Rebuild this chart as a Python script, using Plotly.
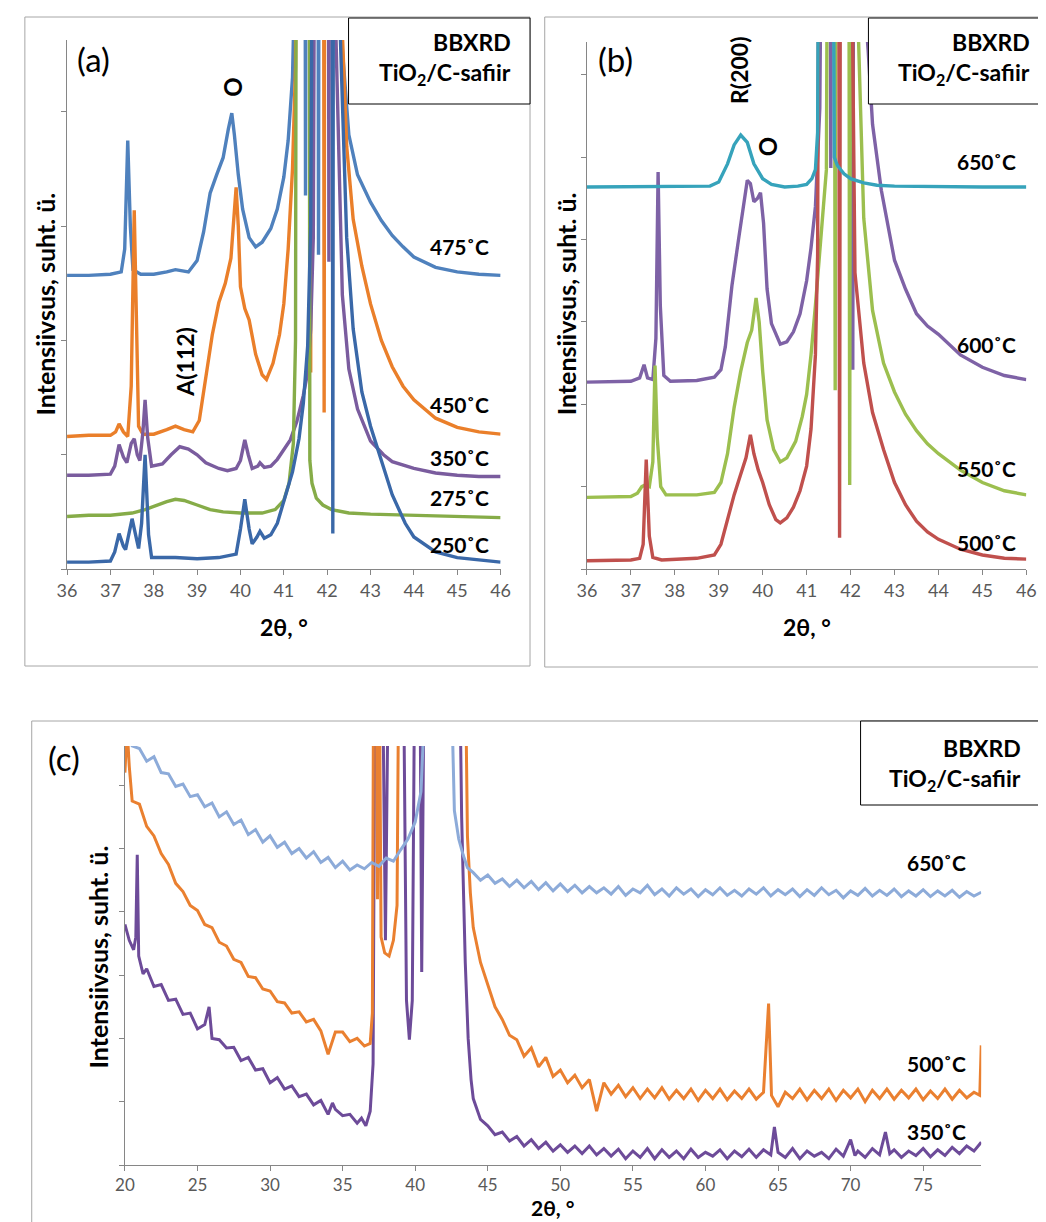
import plotly.graph_objects as go

# ---------------- DATA (intensity in arbitrary units; 1 unit = one y tick) ----------------
# Panel (a)
a475 = [(36,2.57),(36.5,2.57),(37.0,2.58),(37.25,2.6),(37.33,2.8),(37.4,3.75),(37.46,3.0),(37.52,2.62),(37.7,2.58),
        (38.0,2.58),(38.3,2.6),(38.5,2.62),(38.8,2.6),(39.0,2.7),(39.15,2.95),(39.3,3.29),(39.45,3.45),(39.6,3.6),
        (39.72,3.85),(39.8,3.99),(39.86,3.8),(39.95,3.45),(40.05,3.15),(40.2,2.9),(40.35,2.82),(40.5,2.86),(40.7,2.98),
        (40.85,3.15),(41.0,3.43),(41.1,3.75),(41.2,4.3),(41.28,9.0),(41.48,9.0),(41.5,3.27),(41.52,9.0),(41.78,9.0),
        (41.8,2.75),(41.82,9.0),(42.3,4.8),(42.5,3.8),(42.7,3.45),(43.0,3.21),(43.25,3.05),(43.5,2.92),(43.75,2.82),
        (44.0,2.73),(44.5,2.64),(45.0,2.6),(45.5,2.58),(46.0,2.57)]
a450 = [(36,1.16),(36.5,1.17),(37.0,1.17),(37.12,1.2),(37.2,1.27),(37.3,1.2),(37.4,1.16),(37.48,1.6),(37.55,3.14),
        (37.6,2.0),(37.65,1.25),(37.75,1.18),(38.0,1.18),(38.3,1.22),(38.5,1.25),(38.7,1.22),(38.9,1.2),(39.05,1.3),
        (39.2,1.7),(39.35,2.05),(39.5,2.33),(39.65,2.5),(39.78,2.72),(39.85,3.1),(39.9,3.34),(39.95,3.0),(40.0,2.47),
        (40.1,2.28),(40.2,2.18),(40.35,1.88),(40.5,1.7),(40.6,1.66),(40.75,1.8),(40.9,2.05),(41.0,2.32),(41.1,2.8),
        (41.2,3.5),(41.27,4.4),(41.32,9.0),(41.6,9.0),(41.62,1.72),(41.64,9.0),(41.91,9.0),(41.93,1.37),(41.95,9.0),
        (42.35,4.7),(42.45,3.7),(42.6,3.06),(42.8,2.65),(43.0,2.32),(43.25,2.0),(43.5,1.77),(43.75,1.6),(44.0,1.48),
        (44.5,1.32),(45.0,1.24),(45.5,1.2),(46.0,1.18)]
a350 = [(36,0.82),(36.5,0.82),(37.0,0.83),(37.1,0.9),(37.2,1.09),(37.3,0.98),(37.38,0.93),(37.48,1.1),(37.55,1.14),
        (37.62,1.0),(37.68,0.95),(37.75,1.2),(37.8,1.48),(37.86,1.15),(37.95,0.9),(38.2,0.92),(38.4,1.0),(38.6,1.07),
        (38.8,1.05),(39.0,1.0),(39.2,0.93),(39.5,0.88),(39.7,0.86),(39.9,0.88),(40.0,0.95),(40.1,1.13),(40.18,1.0),
        (40.27,0.88),(40.4,0.9),(40.45,0.93),(40.55,0.89),(40.7,0.9),(40.85,0.96),(41.0,1.04),(41.15,1.13),(41.3,1.29),
        (41.45,1.52),(41.55,1.72),(41.62,2.1),(41.68,2.9),(41.74,9.0),(42.02,9.0),(42.04,2.69),(42.06,9.0),(42.2,4.7),
        (42.35,2.4),(42.5,1.75),(42.7,1.4),(43.0,1.12),(43.3,1.0),(43.5,0.94),(44.0,0.88),(44.5,0.84),(45.0,0.82),
        (45.5,0.81),(46.0,0.81)]
a275 = [(36,0.46),(36.5,0.47),(37.0,0.47),(37.5,0.49),(37.8,0.52),(38.0,0.55),(38.3,0.59),(38.5,0.61),(38.7,0.6),
        (39.0,0.56),(39.3,0.52),(39.6,0.5),(40.0,0.49),(40.5,0.49),(40.8,0.52),(41.0,0.6),(41.12,0.75),(41.22,1.1),
        (41.27,2.0),(41.3,9.0),(41.58,9.0),(41.6,0.95),(41.65,0.75),(41.75,0.62),(41.9,0.56),(42.1,0.52),(42.5,0.49),
        (43.0,0.48),(44.0,0.47),(45.0,0.46),(46.0,0.45)]
a250 = [(36.0,0.06),(36.5,0.06),(37.0,0.07),(37.1,0.15),(37.2,0.31),(37.3,0.2),(37.35,0.17),(37.45,0.35),(37.5,0.44),
        (37.58,0.3),(37.65,0.18),(37.72,0.4),(37.8,1.0),(37.88,0.3),(37.95,0.1),(38.5,0.1),(39.0,0.09),(39.5,0.1),
        (39.9,0.13),(40.0,0.35),(40.1,0.61),(40.2,0.35),(40.27,0.22),(40.38,0.28),(40.45,0.33),(40.55,0.27),(40.7,0.3),
        (40.85,0.4),(41.0,0.59),(41.2,0.85),(41.35,1.14),(41.45,1.45),(41.55,1.95),(41.62,3.0),(41.7,9.0),(42.11,9.0),
        (42.13,0.31),(42.15,9.0),(42.3,4.7),(42.45,2.9),(42.6,2.1),(42.8,1.55),(43.0,1.25),(43.3,0.9),(43.5,0.65),
        (43.8,0.4),(44.0,0.28),(44.5,0.15),(45.0,0.1),(45.5,0.08),(46.0,0.06)]

# Panel (b)
b650 = [(36,4.64),(37,4.64),(38,4.64),(38.8,4.65),(39.0,4.7),(39.2,4.92),(39.35,5.15),(39.5,5.27),(39.65,5.18),
        (39.8,4.92),(40.0,4.74),(40.2,4.67),(40.5,4.64),(40.8,4.65),(41.0,4.67),(41.12,4.74),(41.2,4.85),(41.25,5.3),
        (41.28,9),(41.6,9),(41.63,5.0),(41.7,4.9),(41.85,4.8),(42.0,4.74),(42.3,4.69),(42.6,4.66),(43,4.65),(44,4.64),
        (45,4.64),(46,4.64)]
b600 = [(36,2.27),(36.5,2.27),(37.0,2.28),(37.2,2.32),(37.3,2.48),(37.38,2.32),(37.5,2.3),(37.57,2.8),(37.62,4.82),
        (37.67,3.2),(37.75,2.35),(37.9,2.28),(38.5,2.29),(38.9,2.33),(39.05,2.42),(39.15,2.7),(39.3,3.44),(39.45,4.0),
        (39.55,4.35),(39.65,4.72),(39.72,4.68),(39.8,4.46),(39.88,4.5),(39.95,4.57),(40.02,4.2),(40.1,3.4),(40.2,2.98),
        (40.3,2.85),(40.4,2.73),(40.55,2.76),(40.7,2.88),(40.85,3.1),(41.0,3.5),(41.1,3.9),(41.2,4.4),(41.3,5.6),
        (41.35,9),(41.53,9),(41.55,4.87),(41.57,9),(42.03,9),(42.05,2.42),(42.07,9),(42.3,7.0),(42.4,6.3),(42.5,5.4),
        (42.7,4.6),(43.0,3.75),(43.25,3.4),(43.5,3.1),(43.75,2.95),(44.0,2.85),(44.5,2.6),(45.0,2.45),(45.5,2.35),
        (46.0,2.3)]
b550 = [(36,0.87),(36.5,0.87),(37.0,0.88),(37.15,0.92),(37.25,1.0),(37.32,1.02),(37.42,1.0),(37.5,1.3),(37.55,2.47),
        (37.6,1.6),(37.68,1.0),(37.8,0.9),(38.5,0.9),(38.9,0.93),(39.05,1.05),(39.2,1.4),(39.35,1.96),(39.5,2.4),
        (39.65,2.75),(39.75,2.9),(39.85,3.29),(39.92,3.0),(40.0,2.4),(40.1,1.81),(40.25,1.45),(40.4,1.3),(40.55,1.35),
        (40.75,1.55),(40.9,1.85),(41.0,2.12),(41.1,2.6),(41.2,3.2),(41.3,3.9),(41.4,4.5),(41.45,4.85),(41.48,9),
        (41.63,9),(41.65,2.17),(41.67,9),(41.96,9),(41.98,1.02),(42.0,9),(42.15,7.0),(42.3,4.26),(42.5,3.14),
        (42.75,2.5),(43.0,2.15),(43.25,1.88),(43.5,1.68),(43.75,1.52),(44.0,1.4),(44.5,1.2),(45.0,1.05),(45.5,0.95),
        (46.0,0.9)]
b500 = [(36,0.1),(36.5,0.1),(37.0,0.11),(37.2,0.13),(37.28,0.3),(37.35,1.33),(37.42,0.4),(37.5,0.14),(37.7,0.11),
        (38.5,0.13),(38.9,0.17),(39.05,0.3),(39.2,0.6),(39.35,0.9),(39.5,1.15),(39.62,1.35),(39.72,1.63),(39.8,1.4),
        (39.9,1.2),(40.0,1.05),(40.15,0.78),(40.3,0.6),(40.4,0.56),(40.55,0.62),(40.7,0.75),(40.85,0.95),(41.0,1.25),
        (41.1,1.7),(41.2,2.6),(41.25,3.8),(41.28,9),(41.73,9),(41.75,0.38),(41.77,9),(42.0,9),(42.1,3.6),(42.3,2.5),
        (42.5,1.9),(42.75,1.45),(43.0,1.05),(43.25,0.78),(43.5,0.58),(43.75,0.45),(44.0,0.36),(44.5,0.24),(45.0,0.17),
        (45.5,0.13),(46.0,0.12)]

# Panel (c)
c650 = [(20.3,6.9),(20.5,6.62),(21.0,6.58),(21.5,6.38),(22.0,6.45),(22.5,6.2),(23.0,6.18),(23.5,5.98),(24.0,6.02),
        (24.5,5.82),(25.0,5.85),(25.5,5.66),(26.0,5.72),(26.5,5.5),(27.0,5.58),(27.5,5.38),(28.0,5.45),(28.5,5.22),
        (29.0,5.3),(29.5,5.1),(30.0,5.2),(30.5,5.02),(31.0,5.1),(31.5,4.92),(32.0,5.0),(32.5,4.85),(33.0,4.95),
        (33.5,4.78),(34.0,4.86),(34.5,4.7),(35.0,4.8),(35.5,4.66),(36.0,4.74),(36.5,4.68),(37.0,4.78),(37.5,4.72),
        (38.0,4.85),(38.5,4.8),(39.0,4.98),(39.5,5.15),(40.0,5.42),(40.4,5.9),(40.7,7.5),(42.5,7.5),(42.7,5.6),
        (43.0,5.15),(43.3,4.9),(43.6,4.7),(44.0,4.62),(44.5,4.5),(45.0,4.58),(45.5,4.45),(46.0,4.52),(46.5,4.4),
        (47.0,4.5),(47.5,4.38),(48.0,4.48),(48.5,4.35),(49.0,4.46),(49.5,4.33),(50.0,4.44),(50.5,4.32),(51.0,4.42),
        (51.5,4.3),(52.0,4.4),(52.5,4.3),(53.0,4.38),(53.5,4.28),(54.0,4.4),(54.5,4.26),(55.0,4.36),(55.5,4.3),
        (56.0,4.42),(56.5,4.27),(57.0,4.36),(57.5,4.25),(58.0,4.38),(58.5,4.28),(59.0,4.36),(59.5,4.24),(60.0,4.35),
        (60.5,4.27),(61.0,4.38),(61.5,4.26),(62.0,4.34),(62.5,4.25),(63.0,4.36),(63.5,4.28),(64.0,4.38),(64.5,4.25),
        (65.0,4.35),(65.5,4.27),(66.0,4.36),(66.5,4.24),(67.0,4.35),(67.5,4.26),(68.0,4.38),(68.5,4.27),(69.0,4.34),
        (69.5,4.22),(70.0,4.33),(70.5,4.26),(71.0,4.37),(71.5,4.25),(72.0,4.34),(72.5,4.26),(73.0,4.36),(73.5,4.24),
        (74.0,4.33),(74.5,4.25),(75.0,4.35),(75.5,4.24),(76.0,4.33),(76.5,4.25),(77.0,4.34),(77.5,4.23),(78.0,4.32),
        (78.5,4.25),(79.0,4.31)]
c500 = [(20.0,6.2),(20.15,6.9),(20.3,6.3),(20.5,5.75),(21.0,5.7),(21.5,5.35),(22.0,5.2),(22.5,4.92),(23.0,4.75),
        (23.5,4.45),(24.0,4.32),(24.5,4.1),(25.0,4.02),(25.5,3.8),(26.0,3.75),(26.5,3.52),(27.0,3.46),(27.5,3.25),
        (28.0,3.2),(28.5,2.98),(29.0,2.96),(29.5,2.78),(30.0,2.75),(30.5,2.58),(31.0,2.56),(31.5,2.4),(32.0,2.42),
        (32.5,2.26),(33.0,2.3),(33.5,2.12),(34.0,1.75),(34.5,2.1),(35.0,2.1),(35.5,1.95),(36.0,2.0),(36.5,1.88),
        (36.9,1.92),(37.05,2.4),(37.15,9),(37.3,9),(37.4,4.2),(37.5,9),(37.65,3.6),(37.9,3.35),(38.2,3.3),(38.5,3.55),
        (38.75,4.1),(38.9,9),(43.4,9),(43.6,5.2),(43.8,4.3),(44.0,3.75),(44.5,3.2),(45.0,2.85),(45.5,2.5),(46.0,2.3),
        (46.5,2.05),(47.0,1.98),(47.5,1.72),(48.0,1.85),(48.5,1.55),(49.0,1.7),(49.5,1.4),(50.0,1.5),(50.5,1.3),
        (51.0,1.42),(51.5,1.22),(52.0,1.35),(52.5,0.85),(53.0,1.3),(53.5,1.12),(54.0,1.26),(54.5,1.08),(55.0,1.22),
        (55.5,1.05),(56.0,1.2),(56.5,1.06),(57.0,1.22),(57.5,1.04),(58.0,1.18),(58.5,1.05),(59.0,1.2),(59.5,1.02),
        (60.0,1.18),(60.5,1.05),(61.0,1.2),(61.5,1.03),(62.0,1.17),(62.5,1.05),(63.0,1.2),(63.5,1.04),(64.0,1.15),
        (64.35,2.55),(64.55,1.1),(65.0,0.92),(65.5,1.15),(66.0,1.05),(66.5,1.2),(67.0,1.03),(67.5,1.18),(68.0,1.05),
        (68.5,1.2),(69.0,1.02),(69.5,1.18),(70.0,1.06),(70.5,1.2),(71.0,1.0),(71.5,1.18),(72.0,1.05),(72.5,1.2),
        (73.0,1.04),(73.5,1.18),(74.0,1.06),(74.5,1.2),(75.0,1.03),(75.5,1.17),(76.0,1.05),(76.5,1.2),(77.0,1.04),
        (77.5,1.18),(78.0,1.06),(78.5,1.15),(78.9,1.1),(79.0,1.89)]
c350 = [(20.0,3.8),(20.3,3.55),(20.6,3.4),(20.75,3.6),(20.85,4.9),(20.95,3.3),(21.25,3.02),(21.5,3.1),(22.0,2.82),
        (22.5,2.85),(23.0,2.6),(23.5,2.62),(24.0,2.38),(24.5,2.4),(25.0,2.15),(25.5,2.22),(25.8,2.5),(26.0,2.0),
        (26.5,1.98),(27.0,1.85),(27.5,1.86),(28.0,1.65),(28.5,1.7),(29.0,1.5),(29.5,1.52),(30.0,1.3),(30.5,1.38),
        (31.0,1.2),(31.5,1.25),(32.0,1.08),(32.5,1.12),(33.0,0.95),(33.5,1.02),(34.0,0.8),(34.3,0.98),(34.5,0.88),
        (35.0,0.78),(35.5,0.8),(36.0,0.66),(36.3,0.74),(36.6,0.62),(36.9,0.85),(37.1,1.6),(37.25,9),(37.7,9),
        (37.95,3.55),(38.2,9),(39.15,9),(39.4,2.6),(39.6,1.98),(39.8,2.6),(40.0,9),(40.3,9),(40.45,3.05),(40.65,9),
        (43.0,9),(43.2,5.5),(43.45,3.2),(43.65,2.0),(43.85,1.35),(44.0,1.05),(44.25,0.9),(44.5,0.72),(45.0,0.62),
        (45.5,0.48),(46.0,0.52),(46.5,0.38),(47.0,0.45),(47.5,0.3),(48.0,0.4),(48.5,0.26),(49.0,0.36),(49.5,0.22),
        (50.0,0.32),(50.5,0.2),(51.0,0.3),(51.5,0.18),(52.0,0.3),(52.5,0.16),(53.0,0.26),(53.5,0.14),(54.0,0.25),
        (54.5,0.1),(55.0,0.22),(55.5,0.12),(56.0,0.26),(56.5,0.1),(57.0,0.24),(57.5,0.12),(58.0,0.22),(58.5,0.1),
        (59.0,0.25),(59.5,0.12),(60.0,0.2),(60.5,0.14),(61.0,0.24),(61.5,0.1),(62.0,0.22),(62.5,0.13),(63.0,0.25),
        (63.5,0.12),(64.0,0.24),(64.5,0.16),(64.75,0.6),(65.0,0.2),(65.5,0.12),(66.0,0.26),(66.5,0.1),(67.0,0.22),
        (67.5,0.14),(68.0,0.2),(68.5,0.1),(69.0,0.25),(69.5,0.14),(70.0,0.4),(70.3,0.15),(70.5,0.22),(71.0,0.12),
        (71.5,0.26),(72.0,0.16),(72.4,0.52),(72.7,0.18),(73.0,0.24),(73.5,0.12),(74.0,0.22),(74.5,0.15),(75.0,0.26),
        (75.5,0.13),(76.0,0.24),(76.5,0.15),(77.0,0.28),(77.5,0.18),(78.0,0.3),(78.5,0.22),(79.0,0.36)]

labels_a = ["475˚C", "450˚C", "350˚C", "275˚C", "250˚C"]
labels_b = ["650˚C", "600˚C", "550˚C", "500˚C"]
labels_c = ["650˚C", "500˚C", "350˚C"]
ticks_ab = [36, 37, 38, 39, 40, 41, 42, 43, 44, 45, 46]
ticks_c = [20, 25, 30, 35, 40, 45, 50, 55, 60, 65, 70, 75]

# ---------------- FIGURE ----------------
W, H = 1046, 1222
FONT = "Lato"
def fx(x): return x / W
def fy(y): return 1 - y / H

fig = go.Figure()

def add(series, color, xa, ya, width=3.4):
    fig.add_trace(go.Scatter(x=[p[0] for p in series], y=[p[1] for p in series], mode="lines",
                             line=dict(color=color, width=width), xaxis=xa, yaxis=ya,
                             showlegend=False, hoverinfo="skip"))

# (a)
add(a475, "#4f81bd", "x", "y")
add(a450, "#ea7f2a", "x", "y")
add(a350, "#7a5c9e", "x", "y")
add(a275, "#86ac48", "x", "y")
add(a250, "#3a68a8", "x", "y")
# (b)
add(b600, "#7e62a6", "x2", "y2")
add(b550, "#9cbf4f", "x2", "y2")
add(b500, "#c0504d", "x2", "y2")
add(b650, "#36a3bb", "x2", "y2")
# (c)
add(c350, "#6d4b99", "x3", "y3", 3.0)
add(c500, "#ea8030", "x3", "y3", 3.0)
add(c650, "#8dabd9", "x3", "y3", 3.0)

axis_common = dict(showline=True, linecolor="#868686", linewidth=1, ticks="outside", ticklen=5,
                   tickcolor="#868686", showgrid=False, zeroline=False)
xfont = dict(family=FONT, size=18, color="#595959")

fig.update_layout(
    width=W, height=H, margin=dict(l=0, r=0, t=0, b=0),
    paper_bgcolor="white", plot_bgcolor="white",
    xaxis=dict(domain=[fx(50), fx(492)], range=[36, 46], tickvals=ticks_ab, tickfont=xfont,
               anchor="y", **axis_common),
    yaxis=dict(domain=[fy(561), fy(32)], range=[0, 4.63], dtick=1, showticklabels=False,
               anchor="x", **axis_common),
    xaxis2=dict(domain=[fx(580), fx(1028)], range=[36, 46], tickvals=ticks_ab, tickfont=xfont,
                anchor="y2", **axis_common),
    yaxis2=dict(domain=[fy(561), fy(34)], range=[0, 6.40], dtick=1, showticklabels=False,
                anchor="x2", **axis_common),
    xaxis3=dict(domain=[fx(109), fx(982)], range=[20, 79], tickvals=ticks_c,
                tickfont=dict(family=FONT, size=17, color="#595959"), anchor="y3", **axis_common),
    yaxis3=dict(domain=[fy(1157), fy(738)], range=[0, 6.62], dtick=1, showticklabels=False,
                anchor="x3", **axis_common),
)

shapes = []
# panel frames
frame = dict(type="rect", xref="paper", yref="paper", line=dict(color="#a6a6a6", width=1),
             fillcolor="rgba(0,0,0,0)", layer="below")
shapes.append(dict(frame, x0=fx(7), x1=fx(522), y0=fy(658), y1=fy(9)))
shapes.append(dict(frame, x0=fx(537), x1=fx(1041), y0=fy(659), y1=fy(9)))
shapes.append(dict(frame, x0=fx(14), x1=fx(1042), y0=fy(1240), y1=fy(713)))
# title boxes
box = dict(type="rect", xref="paper", yref="paper", line=dict(color="black", width=1),
           fillcolor="white", layer="above")
shapes.append(dict(box, x0=fx(337), x1=fx(522), y0=fy(96), y1=fy(10)))
shapes.append(dict(box, x0=fx(867), x1=fx(1041), y0=fy(96), y1=fy(10)))
shapes.append(dict(box, x0=fx(859), x1=fx(1042), y0=fy(797), y1=fy(713)))
fig.update_layout(shapes=shapes)

ann = []
def text(t, x, y, size, bold=True, angle=0, xanchor="center", color="black"):
    ann.append(dict(text=(f"<b>{t}</b>" if bold else t), x=fx(x), y=fy(y), xref="paper", yref="paper",
                    showarrow=False, xanchor=xanchor, yanchor="middle", textangle=angle,
                    font=dict(family=FONT, size=size, color=color)))

# panel letters
text("(a)", 77, 51, 33, bold=False)
text("(b)", 609, 51, 33, bold=False)
text("(c)", 47, 750, 33, bold=False)
# boxes text
for xr, y1, y2 in [(505, 34, 66), (1034, 34, 66), (1025, 740, 771)]:
    text("BBXRD", xr, y1, 23, xanchor="right")
    text("TiO<sub>2</sub>/C-safiir", xr, y2, 23, xanchor="right")
# axis titles
for cx, cy, s in [(271, 619, 23), (804, 619, 23), (545, 1199, 21)]:
    text("2θ, °", cx, cy, s)
for cx, cy in [(28, 296), (559, 296), (82, 949)]:
    text("Intensiivsus, suht. ü.", cx, cy, 25, angle=-90)
# peak annotations
text("O", 218, 79, 24, angle=-90)
text("A(112)", 170, 354, 23, angle=-90)
text("R(200)", 735, 62, 23, angle=-90)
text("O", 765, 139, 24, angle=-90)
# curve labels
for lab, y in zip(labels_a, [238, 397, 449, 489, 536]):
    text(lab, 450, y, 21)
for lab, y in zip(labels_b, [153, 336, 460, 534]):
    text(lab, 987, y, 21)
for lab, y in zip(labels_c, [854, 1055, 1123]):
    text(lab, 936, y, 21)

fig.update_layout(annotations=ann)
fig.write_html("out.html")
